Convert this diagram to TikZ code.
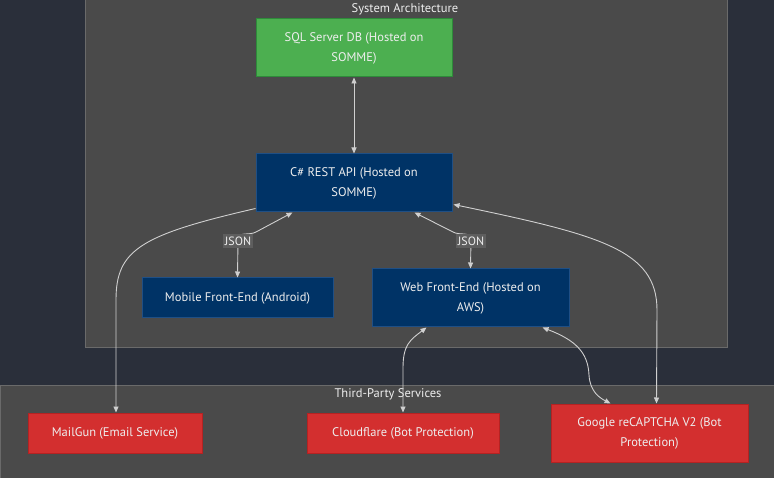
\documentclass[tikz,border=0pt]{standalone}
\usepackage{fontspec}
\setmainfont{PT Sans}
\usetikzlibrary{arrows.meta,calc}
\definecolor{bgc}{HTML}{2A2F3A}
\definecolor{clc}{HTML}{4A4A4A}
\definecolor{clb}{HTML}{6A6A6A}
\definecolor{grn}{HTML}{4CAF50}
\definecolor{grnb}{HTML}{2E8B3A}
\definecolor{blu}{HTML}{003366}
\definecolor{blub}{HTML}{1F4F85}
\definecolor{rd}{HTML}{D32F2F}
\definecolor{rdb}{HTML}{B52222}
\definecolor{edg}{HTML}{D0D0D0}
\definecolor{txt}{HTML}{EEEEEE}
\definecolor{lbl}{HTML}{5E5E5E}
\tikzset{
  box/.style={draw, line width=1pt, text=txt, align=center, inner sep=0pt,
    font=\fontsize{12.5}{20}\selectfont},
  gbox/.style={box, fill=grn, draw=grnb},
  bbox/.style={box, fill=blu, draw=blub},
  rbox/.style={box, fill=rd, draw=rdb},
  link/.style={draw=edg, line width=0.9pt, -{Triangle[length=6pt,width=5pt]}},
  blink/.style={link, {Triangle[length=6pt,width=5pt]}-{Triangle[length=6pt,width=5pt]}},
  jlabel/.style={fill=lbl, text=txt, inner xsep=2pt, inner ysep=2.5pt, font=\fontsize{12}{13}\selectfont},
  ctitle/.style={text=txt, font=\fontsize{12.5}{14}\selectfont},
}
\begin{document}
\begin{tikzpicture}[x=1pt,y=-1pt]
\useasboundingbox (0,0) rectangle (774,478);
\fill[bgc] (0,0) rectangle (774,478);
% clusters
\draw[fill=clc, draw=clb, line width=0.8pt] (85,-2) rectangle (727,347);
\node[ctitle] (t1) at (405,9) {System Architecture};
\draw[fill=clc, draw=clb, line width=0.8pt] (0,385) rectangle (776,480);
\node[ctitle] (t2) at (388,394) {Third-Party Services};
% nodes
\node[gbox, minimum width=196pt, minimum height=58pt] (sql) at (354,48) {SQL Server DB (Hosted on\\SOMME)};
\node[bbox, minimum width=196pt, minimum height=58pt] (api) at (354,183) {C\# REST API (Hosted on\\SOMME)};
\node[bbox, minimum width=191pt, minimum height=40pt] (mob) at (237.5,298) {Mobile Front-End (Android)};
\node[bbox, minimum width=197pt, minimum height=58pt] (web) at (470.5,298) {Web Front-End (Hosted on\\AWS)};
\node[rbox, minimum width=174pt, minimum height=40pt] (mail) at (115,433) {MailGun (Email Service)};
\node[rbox, minimum width=192pt, minimum height=40pt] (cf) at (403,433) {Cloudflare (Bot Protection)};
\node[rbox, minimum width=197pt, minimum height=58pt] (goo) at (649.5,433) {Google reCAPTCHA V2 (Bot\\Protection)};
% edges
\draw[blink] (sql.south) -- (api.north);
\coordinate (j1) at (238,239);
\coordinate (j2) at (471,239);
\draw[blink] ($(api.south west)+(37,0)$) -- (256,232) to[out=-150,in=90] (j1) -- (mob.north);
\draw[blink] ($(api.south west)+(159,0)$) -- (453,232) to[out=-30,in=90] (j2) -- (web.north);
\node[jlabel] (l1) at (238,241) {JSON};
\node[jlabel] (l2) at (471,241) {JSON};
\draw[link] ($(api.south west)+(0,-4)$) .. controls (140,235) and (116,250) .. (116,300) -- ($(mail.north)+(1,0)$);
\draw[blink] ($(api.south east)+(1,-8)$) .. controls (600,235) and (657,250) .. (657,310) -- ($(goo.north)+(7,0)$);
\draw[blink] ($(web.south west)+(55,0)$) .. controls (410,340) and (403,345) .. (403,368) -- (cf.north);
\draw[blink] ($(web.south west)+(171,0)$) .. controls (575,340) and (588,352) .. (589,375) .. controls (590,392) and (600,398) .. ($(goo.north west)+(60,0)$);
\end{tikzpicture}
\end{document}
